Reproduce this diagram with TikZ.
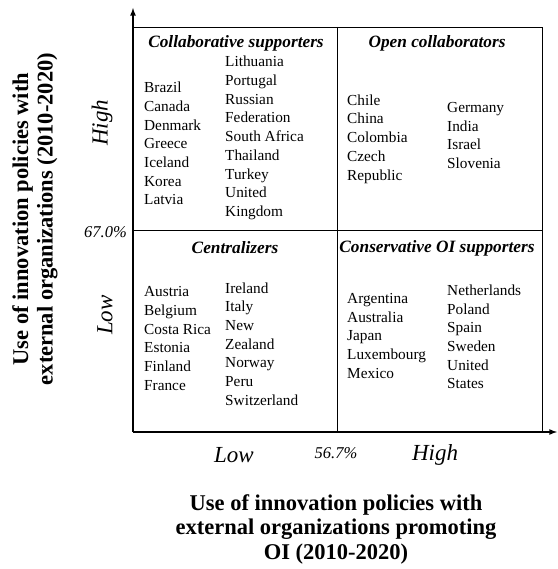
\documentclass[tikz,border=0pt]{standalone}
\usepackage{fontspec}
\setmainfont{Liberation Serif}
\usepackage{tikz}

\tikzset{
  country/.style={anchor=west, inner sep=0pt, align=left, font=\fontsize{15.3}{18.7}\selectfont},
  quadname/.style={inner sep=0pt, font=\fontsize{17.3}{20}\selectfont\bfseries\itshape},
  levelname/.style={inner sep=0pt, font=\fontsize{23}{25}\selectfont\itshape},
  cutname/.style={inner sep=0pt, font=\fontsize{16.5}{18}\selectfont\itshape},
  axistitle/.style={inner sep=0pt, align=center, font=\fontsize{22.5}{24.5}\selectfont\bfseries},
}

\begin{document}
\begin{tikzpicture}[x=1pt,y=-1pt] %[xscale=1.3,yscale=1.3]
\useasboundingbox (0,0) rectangle (557,569);

% corners of the matrix
\coordinate (O) at (133,432);
\coordinate (ytop) at (133,8);
\coordinate (xend) at (557,432);
\coordinate (tl) at (133,27);
\coordinate (tr) at (542,27);
\coordinate (br) at (542,432);
\coordinate (mt) at (337,27);
\coordinate (mb) at (337,432);
\coordinate (ml) at (133,230);
\coordinate (mr) at (542,230);

% frame and split lines
\draw[line width=0.8pt] (tl) -- (tr) -- (br);
\draw[line width=0.8pt] (mt) -- (mb);
\draw[line width=0.8pt] (ml) -- (mr);

% axes
\draw[line width=1.6pt,-latex] (O) -- (ytop);
\draw[line width=1.6pt,-latex] (O) -- (xend);

% quadrant titles
\node[quadname] (collab) at (236,43) {Collaborative supporters};
\node[quadname] (open) at (437,43) {Open collaborators};
\node[quadname] (central) at (235,248) {Centralizers};
\node[quadname] (conserv) at (437,248) {Conservative OI supporters};

% countries
\node[country] (cs1) at (144,143.5) {Brazil\\Canada\\Denmark\\Greece\\Iceland\\Korea\\Latvia};
\node[country] (cs2) at (225,138) {Lithuania\\Portugal\\Russian\\Federation\\South Africa\\Thailand\\Turkey\\United\\Kingdom};
\node[country] (oc1) at (347,139) {Chile\\China\\Colombia\\Czech\\Republic};
\node[country] (oc2) at (447,135.5) {Germany\\India\\Israel\\Slovenia};
\node[country] (ce1) at (144,338.5) {Austria\\Belgium\\Costa Rica\\Estonia\\Finland\\France};
\node[country] (ce2) at (225,344) {Ireland\\Italy\\New\\Zealand\\Norway\\Peru\\Switzerland};
\node[country] (co1) at (347,336) {Argentina\\Australia\\Japan\\Luxembourg\\Mexico};
\node[country] (co2) at (447,337) {Netherlands\\Poland\\Spain\\Sweden\\United\\States};

% levels on the axes
\node[levelname,rotate=90] (yhigh) at (102,123) {High};
\node[levelname,rotate=90] (ylow) at (105,315) {Low};
\node[cutname,anchor=east] (ycut) at (127,232) {67.0\%};
\node[levelname] (xlow) at (234,455) {Low};
\node[cutname] (xcut) at (336,453) {56.7\%};
\node[levelname] (xhigh) at (435,455) {High};

% axis titles
\node[axistitle,rotate=90] (ytitle) at (35,219) {Use of innovation policies with\\external organizations (2010-2020)};
\node[axistitle] (xtitle) at (336,529) {Use of innovation policies with\\external organizations promoting\\OI (2010-2020)};
\end{tikzpicture}
\end{document}
